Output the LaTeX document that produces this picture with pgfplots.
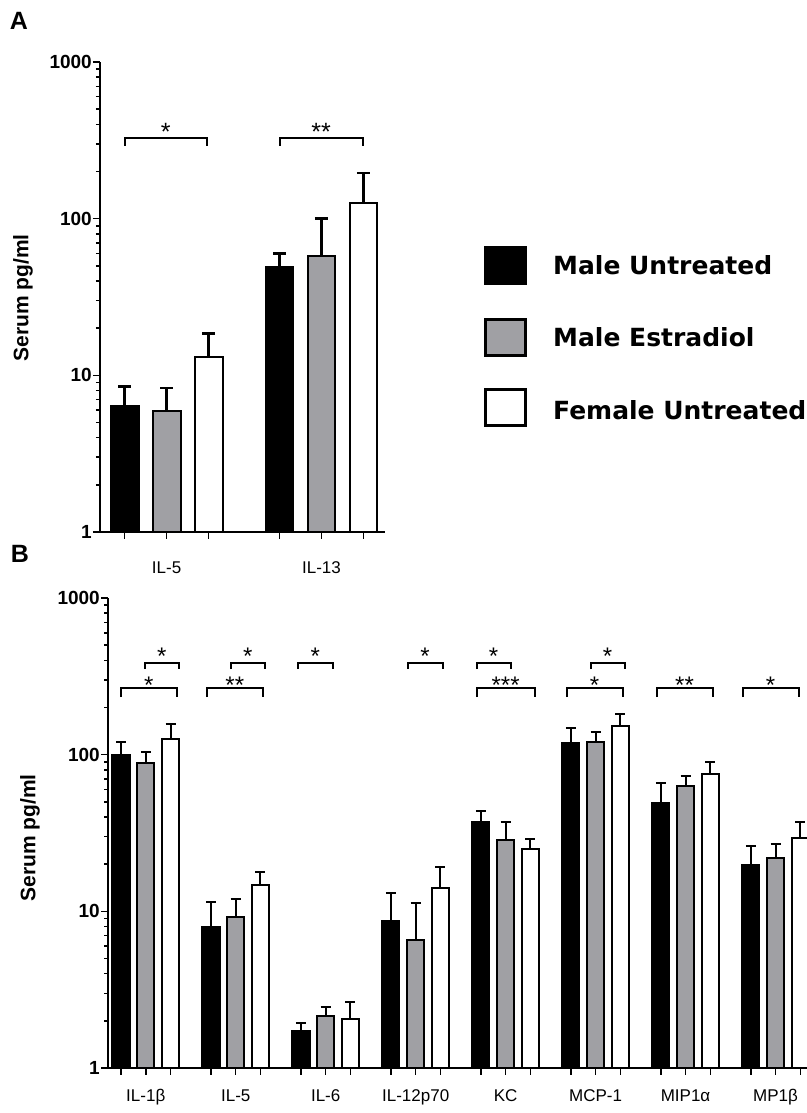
\documentclass[border=0pt]{standalone}
\usepackage{pgfplots}
\pgfplotsset{compat=1.18}
\usepackage{fontspec}
\setmainfont{Liberation Sans}
\newfontfamily\legfont{DejaVu Sans}
\definecolor{bargray}{RGB}{160,160,164}

\pgfplotsset{
  barA/.style={ybar, bar width=0.18, bar shift=0, draw=black, line width=2pt,
    error bars/y dir=plus, error bars/y explicit,
    error bars/error bar style={line width=2.5pt, black},
    error bars/error mark options={rotate=90, line width=2.5pt, black, mark size=6.5pt}},
  barB/.style={ybar, bar width=0.19, bar shift=0, draw=black, line width=2pt,
    error bars/y dir=plus, error bars/y explicit,
    error bars/error bar style={line width=2pt, black},
    error bars/error mark options={rotate=90, line width=2pt, black, mark size=5pt}},
  brk/.style={forget plot, line width=2pt, black, mark=none},
}

\begin{document}
\begin{tikzpicture}
\useasboundingbox (0pt,0pt) rectangle (806pt,1113pt);

% ---------------- Panel A ----------------
\begin{axis}[
  scale only axis, ymode=log, ymin=1, ymax=1000, clip=false,
  axis x line=bottom, axis y line=left,
  axis line style={-, line width=2pt, black},
  tick align=outside,
  major tick length=7pt, minor tick length=4pt,
  tick style={line width=1.5pt, black},
  ytick={1,10,100,1000}, yticklabels={1,10,100,1000},
  minor ytick={2,3,4,5,6,7,8,9,20,30,40,50,60,70,80,90,200,300,400,500,600,700,800,900},
  yticklabel style={font=\fontsize{19}{20}\selectfont\bfseries, inner sep=1pt},
  xticklabel style={font=\fontsize{17}{20}\selectfont, anchor=base, yshift=-35pt},
  at={(100pt,581pt)}, anchor=south west,
  width=285pt, height=470pt, xmin=-0.43, xmax=1.41,
  xtick={-0.271,0,0.271,0.729,1,1.271}, xticklabels={,IL-5,,,IL-13,}]
% Male Untreated (IL-5, IL-13), plotted at group position - 0.271
\addplot[barA, fill=black] table[x=x, y=y, y error=e] {
x y e
-0.271 6.4 2.1
0.729 49.5 10.3
};
% Male Estradiol
\addplot[barA, fill=bargray] table[x=x, y=y, y error=e] {
x y e
0 5.9 2.4
1 58 42
};
% Female Untreated
\addplot[barA, fill=white] table[x=x, y=y, y error=e] {
x y e
0.271 13.0 5.5
1.271 126 70
};
% significance brackets
\addplot[brk] coordinates {(-0.27,292) (-0.27,328) (0.26,328) (0.26,292)};
\addplot[brk] coordinates {(0.73,292) (0.73,328) (1.265,328) (1.265,292)};
\node[anchor=north, inner sep=0pt, font=\fontsize{25}{25}\selectfont] at (axis cs:-0.005,409) {*};
\node[anchor=north, inner sep=0pt, font=\fontsize{25}{25}\selectfont] at (axis cs:0.9975,409) {**};
\end{axis}

% ---------------- Panel B ----------------
\begin{axis}[
  scale only axis, ymode=log, ymin=1, ymax=1000, clip=false,
  axis x line=bottom, axis y line=left,
  axis line style={-, line width=2pt, black},
  tick align=outside,
  major tick length=7pt, minor tick length=4pt,
  tick style={line width=1.5pt, black},
  ytick={1,10,100,1000}, yticklabels={1,10,100,1000},
  minor ytick={2,3,4,5,6,7,8,9,20,30,40,50,60,70,80,90,200,300,400,500,600,700,800,900},
  yticklabel style={font=\fontsize{19}{20}\selectfont\bfseries, inner sep=1pt},
  xticklabel style={font=\fontsize{17}{20}\selectfont, anchor=base, yshift=-27pt},
  at={(108pt,45pt)}, anchor=south west,
  width=699pt, height=470pt, xmin=-0.42, xmax=7.35,
  xtick={-0.275,0,0.275,0.725,1,1.275,1.725,2,2.275,2.725,3,3.275,3.725,4,4.275,4.725,5,5.275,5.725,6,6.275,6.725,7,7.275},
  xticklabels={,IL-1β,,,IL-5,,,IL-6,,,IL-12p70,,,KC,,,MCP-1,,,MIP1α,,,MP1β,}]
% Male Untreated: IL-1b, IL-5, IL-6, IL-12p70, KC, MCP-1, MIP1a, MP1b
\addplot[barB, fill=black] table[x=x, y=y, y error=e] {
x y e
-0.275 100 20
0.725 7.9 3.6
1.725 1.72 0.22
2.725 8.7 4.4
3.725 37 6.6
4.725 118.6 29.4
5.725 49 17
6.725 19.7 6.3
};
% Male Estradiol
\addplot[barB, fill=bargray] table[x=x, y=y, y error=e] {
x y e
0 88 16
1 9.2 2.8
2 2.15 0.3
3 6.6 4.7
4 28.5 8.5
5 120 19
6 63 10
7 21.9 5
};
% Female Untreated
\addplot[barB, fill=white] table[x=x, y=y, y error=e] {
x y e
0.275 126 31
1.275 14.7 3.1
2.275 2.06 0.58
3.275 14.1 5.1
4.275 25 3.9
5.275 152 29
6.275 75 15
7.275 29.4 7.6
};
% upper row brackets
\addplot[brk] coordinates {(-0.011,352) (-0.011,384) (0.367,384) (0.367,352)};
\addplot[brk] coordinates {(0.944,352) (0.944,384) (1.322,384) (1.322,352)};
\addplot[brk] coordinates {(1.689,352) (1.689,384) (2.078,384) (2.078,352)};
\addplot[brk] coordinates {(2.911,352) (2.911,384) (3.3,384) (3.3,352)};
\addplot[brk] coordinates {(3.678,352) (3.678,384) (4.056,384) (4.056,352)};
\addplot[brk] coordinates {(4.944,352) (4.944,384) (5.322,384) (5.322,352)};
% lower row brackets
\addplot[brk] coordinates {(-0.278,233) (-0.278,266) (0.344,266) (0.344,233)};
\addplot[brk] coordinates {(0.678,233) (0.678,266) (1.3,266) (1.3,233)};
\addplot[brk] coordinates {(3.678,233) (3.678,266) (4.322,266) (4.322,233)};
\addplot[brk] coordinates {(4.678,233) (4.678,266) (5.3,266) (5.3,233)};
\addplot[brk] coordinates {(5.678,233) (5.678,266) (6.3,266) (6.3,233)};
\addplot[brk] coordinates {(6.633,233) (6.633,266) (7.256,266) (7.256,233)};
% stars
\node[anchor=north, inner sep=0pt, font=\fontsize{24}{24}\selectfont] at (axis cs:0.178,479) {*};
\node[anchor=north, inner sep=0pt, font=\fontsize{24}{24}\selectfont] at (axis cs:1.133,479) {*};
\node[anchor=north, inner sep=0pt, font=\fontsize{24}{24}\selectfont] at (axis cs:1.883,479) {*};
\node[anchor=north, inner sep=0pt, font=\fontsize{24}{24}\selectfont] at (axis cs:3.105,479) {*};
\node[anchor=north, inner sep=0pt, font=\fontsize{24}{24}\selectfont] at (axis cs:3.867,479) {*};
\node[anchor=north, inner sep=0pt, font=\fontsize{24}{24}\selectfont] at (axis cs:5.133,479) {*};
\node[anchor=north, inner sep=0pt, font=\fontsize{24}{24}\selectfont] at (axis cs:0.033,313) {*};
\node[anchor=north, inner sep=0pt, font=\fontsize{24}{24}\selectfont] at (axis cs:0.989,313) {**};
\node[anchor=north, inner sep=0pt, font=\fontsize{24}{24}\selectfont] at (axis cs:4.0,313) {***};
\node[anchor=north, inner sep=0pt, font=\fontsize{24}{24}\selectfont] at (axis cs:4.989,313) {*};
\node[anchor=north, inner sep=0pt, font=\fontsize{24}{24}\selectfont] at (axis cs:5.989,313) {**};
\node[anchor=north, inner sep=0pt, font=\fontsize{24}{24}\selectfont] at (axis cs:6.944,313) {*};
\end{axis}

% legend
\draw[fill=black, draw=black, line width=3pt] (485.5pt,1113pt-283.5pt) rectangle (525.5pt,1113pt-247.5pt);
\draw[fill=bargray, draw=black, line width=3pt] (485.5pt,1113pt-355.5pt) rectangle (525.5pt,1113pt-319.5pt);
\draw[fill=white, draw=black, line width=3pt] (485.5pt,1113pt-425.5pt) rectangle (525.5pt,1113pt-389.5pt);
\node[anchor=base west, inner sep=0pt, font=\legfont\bfseries\fontsize{25}{28}\selectfont] at (553pt,1113pt-275pt) {Male Untreated};
\node[anchor=base west, inner sep=0pt, font=\legfont\bfseries\fontsize{25}{28}\selectfont] at (553pt,1113pt-347pt) {Male Estradiol};
\node[anchor=base west, inner sep=0pt, font=\legfont\bfseries\fontsize{25}{28}\selectfont] at (553pt,1113pt-420pt) {Female Untreated};

% labels
\node[font=\bfseries\fontsize{25}{25}\selectfont] at (19pt,1092pt) {A};
\node[font=\bfseries\fontsize{25}{25}\selectfont] at (20pt,559pt) {B};
\node[rotate=90, font=\bfseries\fontsize{21}{24}\selectfont] at (23pt,815pt) {Serum pg/ml};
\node[rotate=90, font=\bfseries\fontsize{21}{24}\selectfont] at (30pt,275pt) {Serum pg/ml};
\end{tikzpicture}
\end{document}
